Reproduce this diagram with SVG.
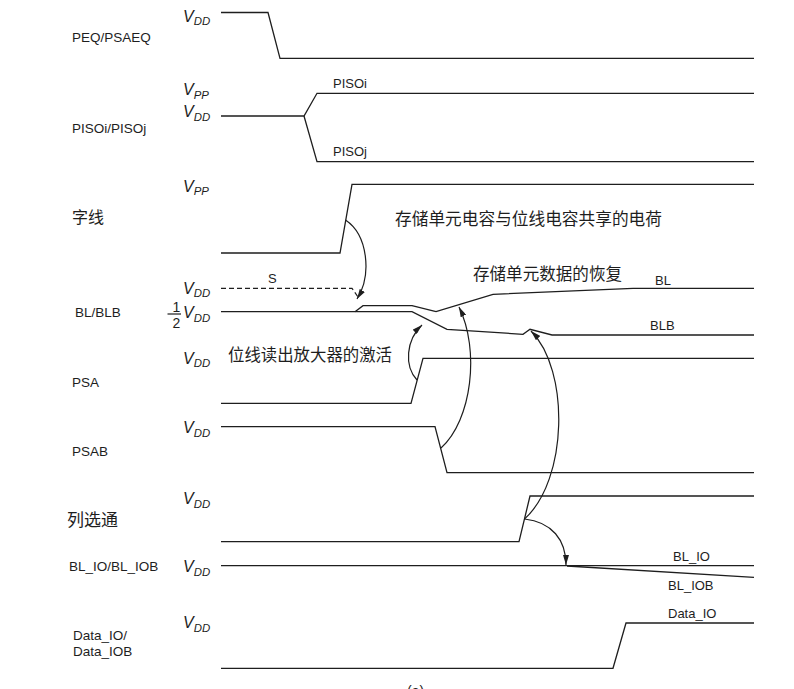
<svg xmlns="http://www.w3.org/2000/svg" width="794" height="689" viewBox="0 0 794 689">
<defs>
<style>
.w{fill:none;stroke:#1e1e1e;stroke-width:1.3;stroke-linejoin:miter}
.d{fill:none;stroke:#1e1e1e;stroke-width:1.2;stroke-dasharray:5 3}
.a{fill:none;stroke:#1e1e1e;stroke-width:1.2}
.lab{font-family:"Liberation Sans",Arial,sans-serif;font-size:13.5px;fill:#1e1e1e}
.sm{font-family:"Liberation Sans",Arial,sans-serif;font-size:13px;fill:#1e1e1e}
.cn{font-family:"Noto Sans CJK SC",sans-serif;font-size:16.5px;fill:#1e1e1e}
.v{font-family:"Liberation Sans",Arial,sans-serif;font-size:16px;font-style:italic;fill:#1e1e1e}
.sub{font-size:11.4px}
.num{font-family:"Liberation Sans",Arial,sans-serif;font-size:14px;fill:#1e1e1e;text-anchor:middle}
</style>
<marker id="ah" viewBox="0 0 10 6" refX="10" refY="3" markerWidth="10" markerHeight="6" markerUnits="userSpaceOnUse" orient="auto">
<path d="M0,0 L10,3 L0,6 z" fill="#1e1e1e"/>
</marker>
</defs>
<rect width="794" height="689" fill="#fff"/>

<g id="peq">
<text class="lab" x="72" y="42">PEQ/PSAEQ</text>
<text class="v" x="183" y="21.5">V<tspan class="sub" dy="3.5">DD</tspan></text>
<path class="w" d="M221,12.5 L268,12.5 L280,58.3 L754,58.3"/>
</g>

<g id="piso">
<text class="lab" x="72" y="133">PISOi/PISOj</text>
<text class="v" x="183" y="95">V<tspan class="sub" dy="3.5">PP</tspan></text>
<text class="v" x="183" y="117">V<tspan class="sub" dy="3.5">DD</tspan></text>
<path class="w" d="M221,116 L304,116 L317,93.3 L754,93.3"/>
<path class="w" d="M304,116 L317,161.7 L754,161.7"/>
<text class="sm" x="333" y="88">PISOi</text>
<text class="sm" x="333" y="156">PISOj</text>
</g>

<g id="wordline">
<text class="cn" x="72" y="223" style="font-size:16px">字线</text>
<text class="v" x="183" y="191.5">V<tspan class="sub" dy="3.5">PP</tspan></text>
<path class="w" d="M221,253 L340,253 L352,184.3 L754,184.3"/>
<text class="cn" x="395" y="225" textLength="267" lengthAdjust="spacingAndGlyphs">存储单元电容与位线电容共享的电荷</text>
</g>

<g id="blblb">
<text class="lab" x="75" y="317">BL/BLB</text>
<text class="v" x="183" y="293.5">V<tspan class="sub" dy="3.5">DD</tspan></text>
<text class="num" x="176.5" y="311.5">1</text>
<line x1="167.5" y1="314" x2="181" y2="314" stroke="#1e1e1e" stroke-width="1.2"/>
<text class="num" x="176.5" y="328">2</text>
<text class="v" x="183" y="318">V<tspan class="sub" dy="3.5">DD</tspan></text>
<text class="sm" x="268" y="283">S</text>
<path class="d" d="M221,288.3 L352,288.3 L358,297"/>
<path class="w" d="M221,311.7 L412,311.7 L447,329.3 L523,334.3 L530,329.3 L552,335 L754,335"/>
<path class="w" d="M355,311.7 L363,305.7 L412,305.7 L436,311.7 L493,294.3 L633,288.3 L754,288.3"/>
<text class="sm" x="655" y="285">BL</text>
<text class="sm" x="650" y="330">BLB</text>
<text class="cn" x="473" y="279.5" textLength="149" lengthAdjust="spacingAndGlyphs">存储单元数据的恢复</text>
</g>

<g id="psa">
<text class="lab" x="72" y="387">PSA</text>
<text class="v" x="183" y="363.5">V<tspan class="sub" dy="3.5">DD</tspan></text>
<path class="w" d="M221,403.3 L411,403.3 L423,358.3 L754,358.3"/>
<text class="cn" x="228" y="361" textLength="164" lengthAdjust="spacingAndGlyphs">位线读出放大器的激活</text>
</g>

<g id="psab">
<text class="lab" x="72" y="456">PSAB</text>
<text class="v" x="183" y="433">V<tspan class="sub" dy="3.5">DD</tspan></text>
<path class="w" d="M221,426.7 L435,426.7 L447,472.7 L754,472.7"/>
</g>

<g id="colsel">
<text class="cn" x="67" y="525.5" style="font-size:17px">列选通</text>
<text class="v" x="183" y="504">V<tspan class="sub" dy="3.5">DD</tspan></text>
<path class="w" d="M221,541.7 L519,541.7 L530,496 L754,496"/>
</g>

<g id="blio">
<text class="lab" x="69" y="571">BL_IO/BL_IOB</text>
<text class="v" x="183" y="572">V<tspan class="sub" dy="3.5">DD</tspan></text>
<path class="w" d="M221,565.7 L754,565.7"/>
<path class="w" d="M567,566 L754,577.3"/>
<text class="sm" x="673" y="561">BL_IO</text>
<text class="sm" x="668" y="590">BL_IOB</text>
</g>

<g id="dataio">
<text class="lab" x="73" y="640">Data_IO/</text>
<text class="lab" x="73" y="656">Data_IOB</text>
<text class="v" x="183" y="628">V<tspan class="sub" dy="3.5">DD</tspan></text>
<path class="w" d="M221,668.3 L613,668.3 L626,623 L754,623"/>
<text class="sm" x="668" y="618">Data_IO</text>
</g>

<g id="connectors">
<path class="a" d="M345.5,220 C368,235 372,275 357,299" marker-end="url(#ah)"/>
<path class="a" d="M417,380 C404,366 406,340 422,325" marker-end="url(#ah)"/>
<path class="a" d="M441,448 C472,420 480,350 459,307" marker-end="url(#ah)"/>
<path class="a" d="M524.5,519 C568,480 570,370 531,331" marker-end="url(#ah)"/>
<path class="a" d="M524.5,519 C552,522 566,540 566,565" marker-end="url(#ah)"/>
</g>

<text x="407" y="696" style="font-family:'Liberation Sans',Arial,sans-serif;font-size:14px;fill:#1e1e1e">(a)</text>
</svg>
